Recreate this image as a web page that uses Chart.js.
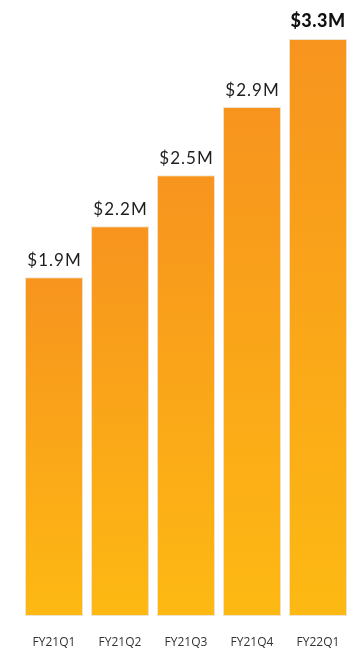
<!DOCTYPE html>
<html>
<head>
<meta charset="utf-8">
<script src="https://cdn.jsdelivr.net/npm/chart.js@4/dist/chart.umd.min.js"></script>
<style>
  html, body { margin: 0; padding: 0; background: #ffffff; }
  #wrap { width: 358px; height: 656px; position: relative; }
</style>
</head>
<body>
<div id="wrap"><canvas id="revenue"></canvas></div>
<script>
// Quarterly revenue, $M
const quarters = ['FY21Q1', 'FY21Q2', 'FY21Q3', 'FY21Q4', 'FY22Q1'];
const revenue = [1.9, 2.2, 2.5, 2.9, 3.3];
const valueLabels = ['$1.9M', '$2.2M', '$2.5M', '$2.9M', '$3.3M'];

// bars rise from a small stub below zero
const axisFloor = -0.09;

const topColor = '#F7941E';
const bottomColor = '#FDB913';

function barGradient(ctx) {
  const chart = ctx.chart;
  if (!chart.chartArea || ctx.raw == null) return topColor;
  const y = chart.scales.y;
  const top = y.getPixelForValue(ctx.raw);
  const bottom = y.getPixelForValue(axisFloor);
  const g = chart.ctx.createLinearGradient(0, top, 0, bottom);
  g.addColorStop(0, topColor);
  g.addColorStop(1, bottomColor);
  return g;
}

// value labels above each bar; the latest quarter is bold
const valueLabelPlugin = {
  id: 'valueLabels',
  afterDatasetsDraw(chart) {
    const c = chart.ctx;
    const meta = chart.getDatasetMeta(0);
    c.save();
    c.textAlign = 'center';
    c.textBaseline = 'alphabetic';
    meta.data.forEach((bar, i) => {
      const last = i === meta.data.length - 1;
      if (last) {
        c.font = '900 18px Lato, "Open Sans", sans-serif';
        c.letterSpacing = '0.5px';
        c.fillStyle = '#111111';
        c.fillText(valueLabels[i], bar.x, bar.y - 12);
      } else {
        c.font = '17px Lato, "Open Sans", sans-serif';
        c.letterSpacing = '1px';
        c.fillStyle = '#1e1e1e';
        c.fillText(valueLabels[i], bar.x + 0.5, bar.y - 11);
      }
    });
    c.restore();
  }
};

new Chart(document.getElementById('revenue'), {
  type: 'bar',
  data: {
    labels: quarters,
    datasets: [{
      data: revenue,
      base: axisFloor,
      backgroundColor: barGradient,
      borderColor: 'rgba(238, 226, 205, 0.95)',
      borderWidth: 1,
      borderSkipped: false,
      categoryPercentage: 1.0,
      barPercentage: 0.88
    }]
  },
  options: {
    responsive: true,
    maintainAspectRatio: false,
    animation: false,
    layout: { padding: { top: 39, left: 21, right: 7, bottom: 0 } },
    plugins: {
      legend: { display: false },
      tooltip: { enabled: false }
    },
    scales: {
      x: {
        grid: { display: false, tickLength: 14 },
        border: { display: false },
        ticks: {
          color: '#333333',
          font: { family: '"Open Sans", Lato, sans-serif', size: 12 },
          padding: 5.8,
          maxRotation: 0
        }
      },
      y: {
        display: false,
        min: axisFloor,
        max: 3.3
      }
    }
  },
  plugins: [valueLabelPlugin]
});
</script>
</body>
</html>
